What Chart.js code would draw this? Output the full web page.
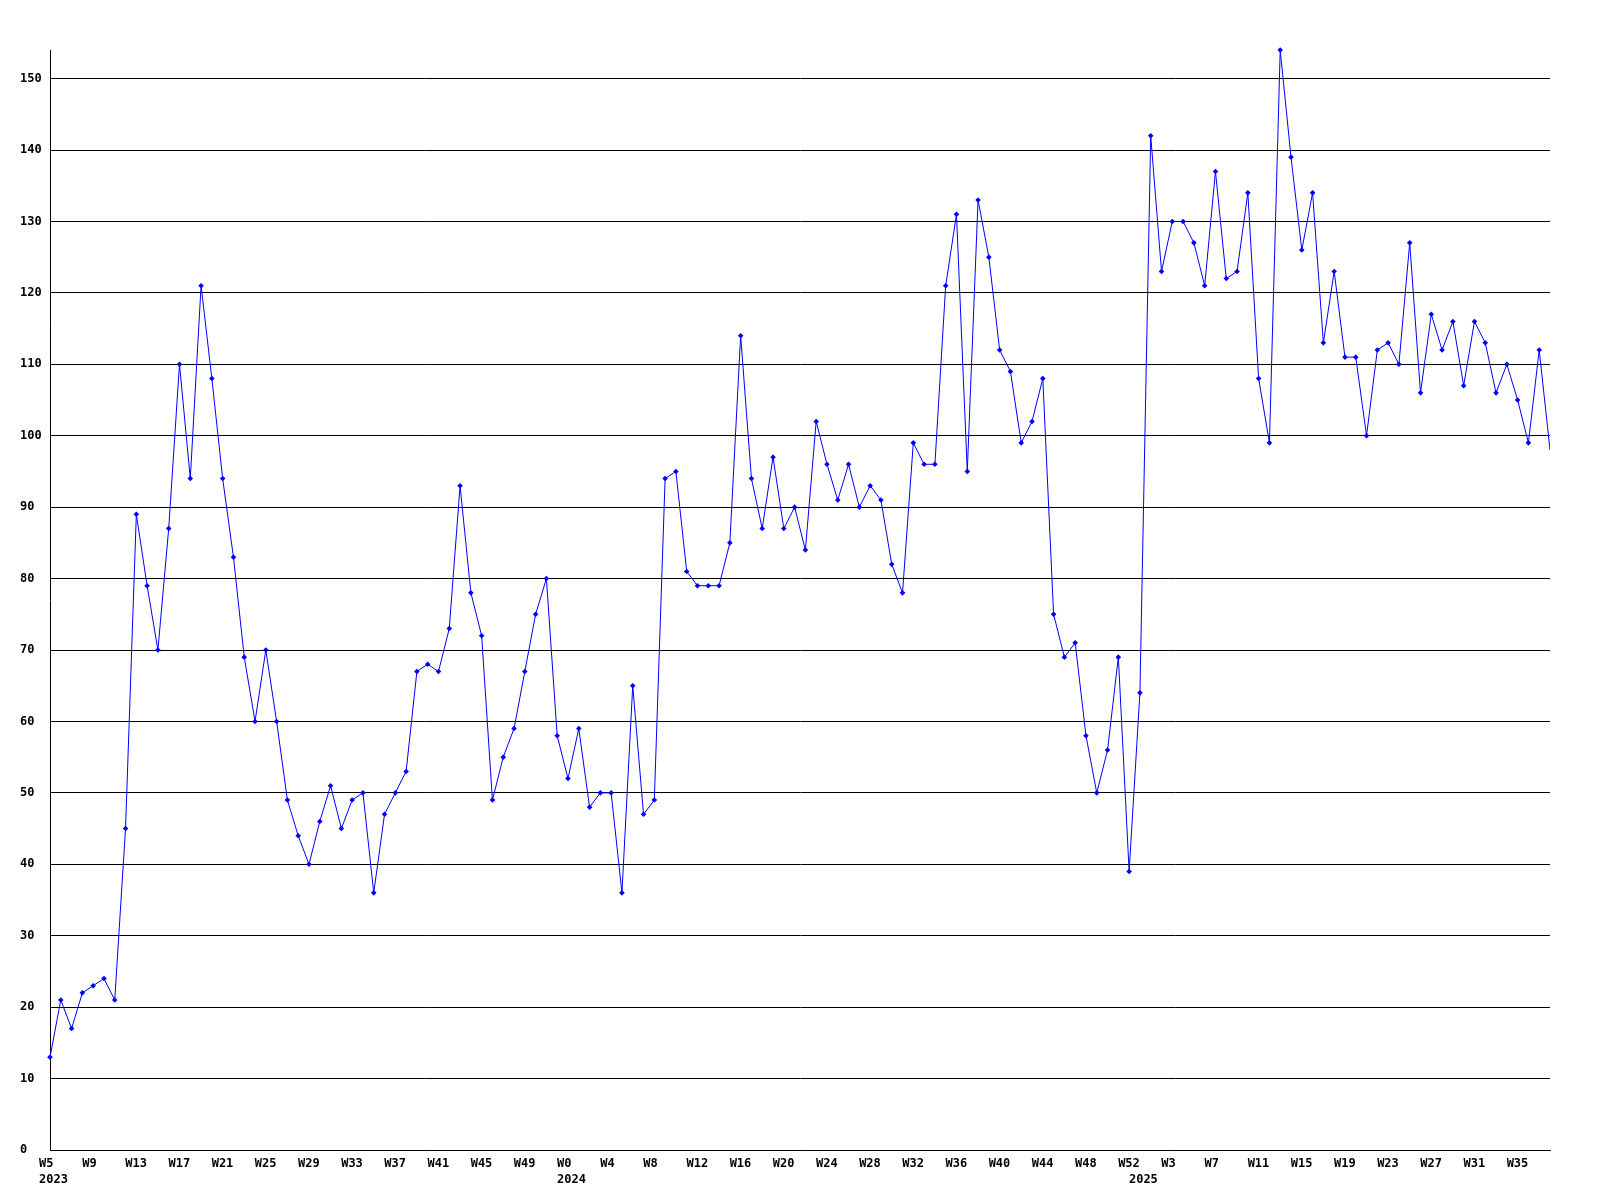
<!DOCTYPE html>
<html>
<head>
<meta charset="utf-8">
<script src="https://cdn.jsdelivr.net/npm/chart.js@4.4.1/dist/chart.umd.min.js"></script>
<style>
html,body{margin:0;padding:0;background:#fff;}
#wrap{width:1600px;height:1200px;}
</style>
</head>
<body>
<div id="wrap"><canvas id="chart" width="1600" height="1200"></canvas></div>
<script>
// DATA
const weeks2023 = ["W5","W6","W7","W8","W9","W10","W11","W12","W13","W14","W15","W16","W17","W18","W19","W20","W21","W22","W23","W24","W25","W26","W27","W28","W29","W30","W31","W32","W33","W34","W35","W36","W37","W38","W39","W40","W41","W42","W43","W44","W45","W46","W47","W48","W49","W50","W51","W52"];
const weeks2024 = ["W0","W1","W2","W3","W4","W5","W6","W7","W8","W9","W10","W11","W12","W13","W14","W15","W16","W17","W18","W19","W20","W21","W22","W23","W24","W25","W26","W27","W28","W29","W30","W31","W32","W33","W34","W35","W36","W37","W38","W39","W40","W41","W42","W43","W44","W45","W46","W47","W48","W49","W50","W51","W52"];
const weeks2025 = ["W0","W1","W2","W3","W4","W5","W6","W7","W8","W9","W10","W11","W12","W13","W14","W15","W16","W17","W18","W19","W20","W21","W22","W23","W24","W25","W26","W27","W28","W29","W30","W31","W32","W33","W34","W35","W36","W37","W38"];

const values2023 = [13,21,17,22,23,24,21,45,89,79,70,87,110,94,121,108,94,83,69,60,70,60,49,44,40,46,51,45,49,50,36,47,50,53,67,68,67,73,93,78,72,49,55,59,67,75,80,58];
const values2024 = [52,59,48,50,50,36,65,47,49,94,95,81,79,79,79,85,114,94,87,97,87,90,84,102,96,91,96,90,93,91,82,78,99,96,96,121,131,95,133,125,112,109,99,102,108,75,69,71,58,50,56,69,39];
const values2025 = [64,142,123,130,130,127,121,137,122,123,134,108,99,154,139,126,134,113,123,111,111,100,112,113,110,127,106,117,112,116,107,116,113,106,110,105,99,112,98];

const years = ["2023","2024","2025"];
const yTicks = [0,10,20,30,40,50,60,70,80,90,100,110,120,130,140,150];
const yMax = 154;

const labels = weeks2023.concat(weeks2024, weeks2025);
const values = values2023.concat(values2024, values2025);
const yearStart = {};
yearStart[0] = years[0];
yearStart[weeks2023.length] = years[1];
yearStart[weeks2023.length + weeks2024.length] = years[2];

const FONT = {family:"'DejaVu Sans Mono', monospace", size:12, weight:"bold", lineHeight:1.35};

// CHART
const ctx = document.getElementById("chart").getContext("2d");

new Chart(ctx,{
type:"line",
data:{
labels:labels,
datasets:[{
data:values,
borderColor:"#0000ff",
backgroundColor:"#0000ff",
borderWidth:1,
tension:0,
clip:{left:5,top:6,right:0,bottom:5},
pointStyle:"rectRot",
pointRadius:(c)=> c.dataIndex === values.length-1 ? 0 : 2.8,
pointBorderWidth:0,
pointBackgroundColor:"#0000ff"
}]
},
options:{
responsive:false,
animation:false,
layout:{padding:{left:20,right:50,top:50,bottom:0}},
plugins:{legend:{display:false},tooltip:{enabled:false}},
scales:{
x:{
type:"category",
offset:false,
border:{display:true,color:"#000",width:1},
grid:{display:false,drawTicks:false},
afterFit:(s)=>{ s.height = 50; },
ticks:{
autoSkip:false,
maxRotation:0,
minRotation:0,
align:"start",
labelOffset:-11,
padding:6,
color:"#000",
font:FONT,
callback:function(v,i){
const w = i % 4 === 0 ? labels[i] : "";
const y = yearStart[i];
if(y) return [w, y];
return w === "" ? null : w;
}
}
},
y:{
min:0,
max:yMax,
border:{display:true,color:"#000",width:1},
grid:{color:"#000",lineWidth:1,drawTicks:false},
afterFit:(s)=>{ s.width = 30; },
afterBuildTicks:(s)=>{ s.ticks = yTicks.map(v=>({value:v})); },
ticks:{
crossAlign:"far",
padding:8,
color:"#000",
font:FONT
}
}
}
},
plugins:[{
id:"bg",
beforeDraw:(c)=>{
const g = c.ctx;
g.save();
g.fillStyle = "#fff";
g.fillRect(0,0,c.width,c.height);
g.restore();
}
}]
});
</script>
</body>
</html>
